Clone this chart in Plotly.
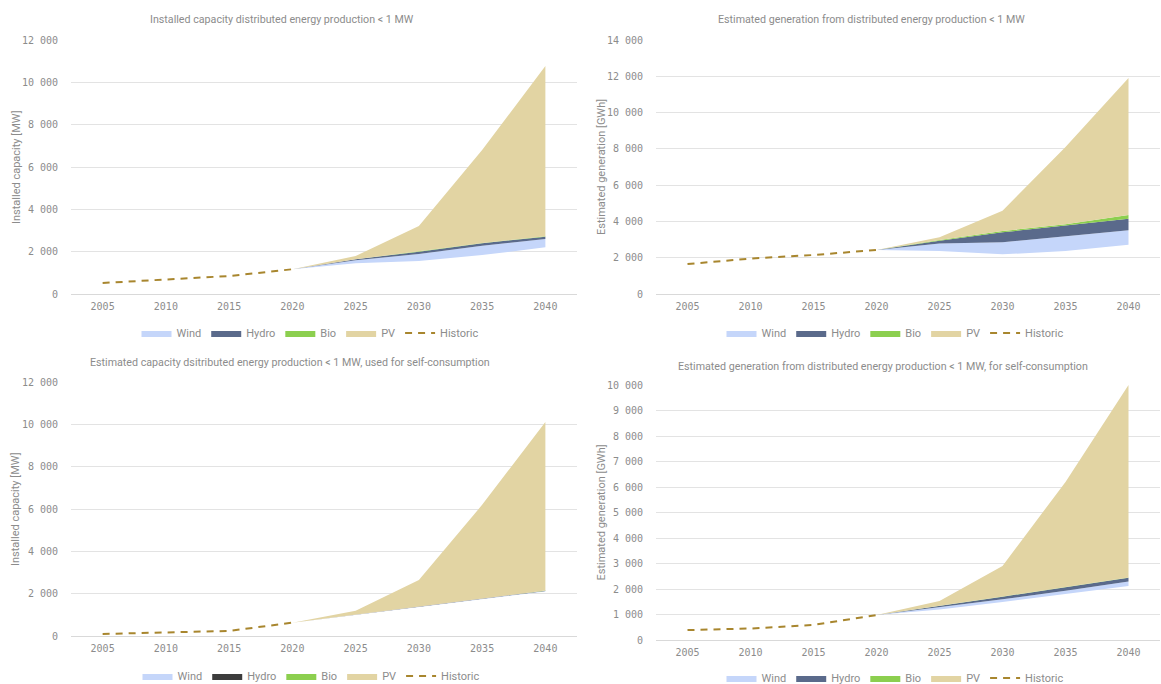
import plotly.graph_objects as go

# Category axis (years)
years = ["2005", "2010", "2015", "2020", "2025", "2030", "2035", "2040"]
hist_years = ["2005", "2010", "2015", "2020"]
proj_years = ["2020", "2025", "2030", "2035", "2040"]

# Installed capacity [MW]
cap_hist = [520, 700, 850, 1170]
cap_base = [1170, 1450, 1560, 1840, 2205]
cap_wind = [0, 150, 330, 445, 395]
cap_hydro = [0, 40, 110, 110, 110]
cap_bio = [0, 5, 15, 15, 20]
cap_pv = [0, 150, 1200, 4390, 8040]

# Estimated generation [GWh]
gen_hist = [1650, 1950, 2150, 2425]
gen_base = [2425, 2370, 2185, 2370, 2720]
gen_wind = [0, 420, 665, 810, 790]
gen_hydro = [0, 150, 550, 585, 640]
gen_bio = [0, 30, 70, 75, 205]
gen_pv = [0, 155, 1120, 4260, 7545]

# Estimated capacity used for self-consumption [MW]
self_cap_hist = [95, 165, 240, 630]
self_cap_base = [630, 1000, 1360, 1735, 2105]
self_cap_wind = [0, 15, 20, 25, 25]
self_cap_hydro = [0, 10, 10, 10, 10]
self_cap_bio = [0, 0, 0, 0, 5]
self_cap_pv = [0, 170, 1260, 4425, 7965]

# Estimated generation for self-consumption [GWh]
self_gen_hist = [390, 450, 590, 980]
self_gen_base = [980, 1200, 1490, 1815, 2120]
self_gen_wind = [0, 80, 105, 120, 170]
self_gen_hydro = [0, 50, 105, 130, 155]
self_gen_bio = [0, 5, 10, 10, 10]
self_gen_pv = [0, 195, 1190, 4125, 7545]

titles = [
    "Installed capacity distributed energy production < 1 MW",
    "Estimated generation from distributed energy production < 1 MW",
    "Estimated capacity dsitributed energy production < 1 MW, used for self-consumption",
    "Estimated generation from distributed energy production < 1 MW, for self-consumption",
]
y_titles = ["Installed capacity [MW]", "Estimated generation [GWh]",
            "Installed capacity [MW]", "Estimated generation [GWh]"]

WIND = "#c5d6fa"
HYDRO = "#5a6a8b"
HYDRO_DARK = "#3c3c3c"
BIO = "#8ccf4f"
PV = "#e2d4a3"
HIST = "#a8862e"
TXT = "#8c8c8c"
GRID = "#e3e3e3"

W, H = 1161, 684

# legend: (center x px, center y px)
panels = [
    dict(hist=cap_hist, base=cap_base, wind=cap_wind, hydro=cap_hydro, bio=cap_bio, pv=cap_pv,
         x=(71, 577), y=(40, 294), ymax=12000, dtick=2000, hydro_color=HYDRO,
         legend=(310, 333), title=(282, 19)),
    dict(hist=gen_hist, base=gen_base, wind=gen_wind, hydro=gen_hydro, bio=gen_bio, pv=gen_pv,
         x=(656, 1160), y=(40, 294), ymax=14000, dtick=2000, hydro_color=HYDRO,
         legend=(895, 333), title=(871, 19)),
    dict(hist=self_cap_hist, base=self_cap_base, wind=self_cap_wind, hydro=self_cap_hydro,
         bio=self_cap_bio, pv=self_cap_pv,
         x=(71, 577), y=(382, 636), ymax=12000, dtick=2000, hydro_color=HYDRO_DARK,
         legend=(311, 676), title=(290, 362)),
    dict(hist=self_gen_hist, base=self_gen_base, wind=self_gen_wind, hydro=self_gen_hydro,
         bio=self_gen_bio, pv=self_gen_pv,
         x=(656, 1160), y=(385, 640), ymax=10000, dtick=1000, hydro_color=HYDRO,
         legend=(895, 678), title=(883, 366)),
]

fig = go.Figure()
annotations = []
layout = {}

for i, p in enumerate(panels):
    n = i + 1
    xa = "x" if n == 1 else f"x{n}"
    ya = "y" if n == 1 else f"y{n}"
    lg = "legend" if n == 1 else f"legend{n}"
    sg = f"stack{n}"

    series = [
        ("base", p["base"], "rgba(0,0,0,0)", False),
        ("Wind", p["wind"], WIND, True),
        ("Hydro", p["hydro"], p["hydro_color"], True),
        ("Bio", p["bio"], BIO, True),
        ("PV", p["pv"], PV, True),
    ]
    for name, vals, color, show in series:
        fig.add_trace(go.Scatter(
            x=proj_years, y=vals, name=name, mode="lines",
            stackgroup=sg, line=dict(width=0, color=color), fillcolor=color,
            showlegend=show, legend=lg, xaxis=xa, yaxis=ya,
        ))
    fig.add_trace(go.Scatter(
        x=hist_years, y=p["hist"], name="Historic", mode="lines",
        line=dict(color=HIST, width=2, dash="7px,6px"),
        legend=lg, xaxis=xa, yaxis=ya,
    ))

    x0, x1 = p["x"]
    yt, yb = p["y"]
    layout[f"xaxis{'' if n == 1 else n}"] = dict(
        domain=[x0 / W, x1 / W], anchor=ya, type="category",
        categoryorder="array", categoryarray=years, range=[-0.5, 7.5],
        showgrid=False, zeroline=False, showline=False, ticks="",
        tickfont=dict(family="DejaVu Sans Mono", size=10, color=TXT),
        ticklabelstandoff=5,
    )
    layout[f"yaxis{'' if n == 1 else n}"] = dict(
        domain=[1 - yb / H, 1 - yt / H], anchor=xa, range=[0, p["ymax"]],
        dtick=p["dtick"], tickformat=",d", showgrid=True, gridcolor=GRID, gridwidth=1,
        zeroline=True, zerolinecolor="#d9d9d9", zerolinewidth=1, showline=False, ticks="",
        tickfont=dict(family="DejaVu Sans Mono", size=10, color=TXT),
        ticklabelstandoff=12,
    )
    lx, ly = p["legend"]
    layout[lg] = dict(
        orientation="h", x=lx / W, xanchor="center",
        y=1 - ly / H, yanchor="middle",
        font=dict(family="Roboto", size=11, color=TXT), bgcolor="rgba(0,0,0,0)",
        itemwidth=30, traceorder="normal", tracegroupgap=0,
    )
    tx, ty = p["title"]
    annotations.append(dict(
        text=titles[i], x=tx / W, y=1 - ty / H,
        xref="paper", yref="paper", xanchor="center", yanchor="middle", showarrow=False,
        font=dict(family="Roboto", size=10.7, color=TXT),
    ))
    annotations.append(dict(
        text=y_titles[i], x=(x0 - 55) / W, y=1 - (yt + yb) / 2 / H,
        xref="paper", yref="paper", xanchor="center", yanchor="middle", showarrow=False,
        textangle=-90, font=dict(family="Roboto", size=11, color=TXT),
    ))

fig.update_layout(
    width=W, height=H, margin=dict(l=0, r=0, t=0, b=0, pad=0, autoexpand=False),
    paper_bgcolor="white", plot_bgcolor="white",
    separators=". ", annotations=annotations, hovermode=False,
    **layout,
)

fig.write_html("out.html")
